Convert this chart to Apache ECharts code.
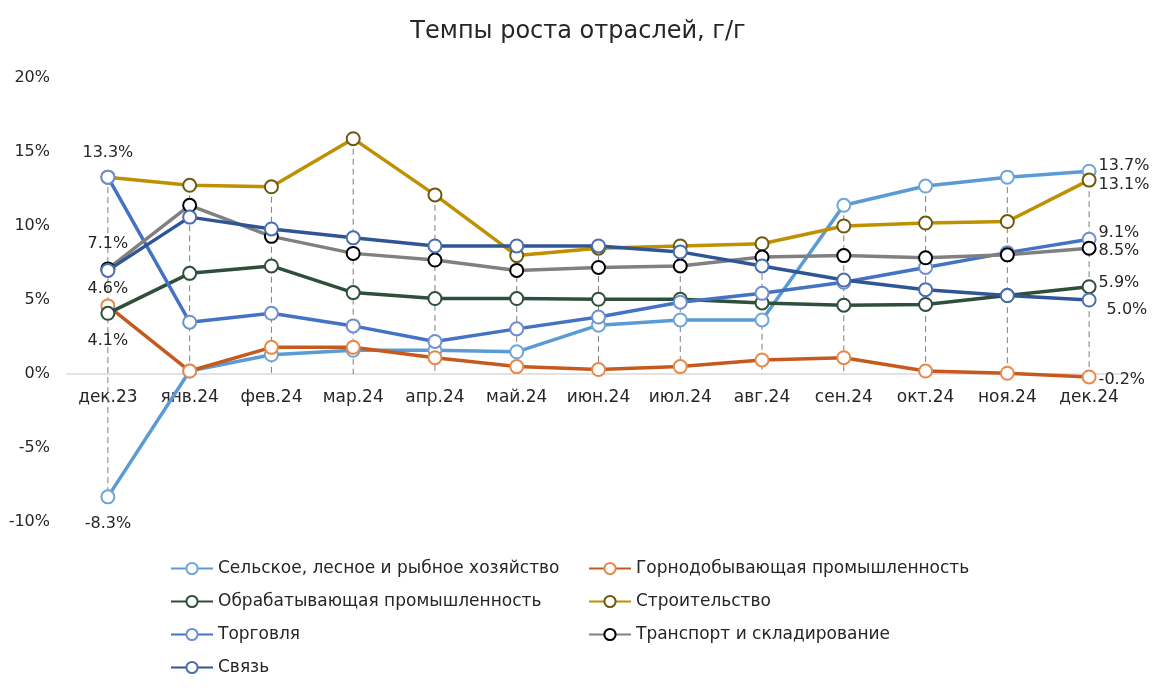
<!DOCTYPE html>
<html>
<head>
<meta charset="utf-8">
<script src="https://cdn.jsdelivr.net/npm/echarts@6/dist/echarts.min.js"></script>
<style>
  html, body { margin: 0; padding: 0; background: #fff; }
  #chart-box { width: 1156px; height: 691px; }
</style>
</head>
<body>
<div id="chart-box"></div>
<script>
var categories = ['дек.23','янв.24','фев.24','мар.24','апр.24','май.24','июн.24','июл.24','авг.24','сен.24','окт.24','ноя.24','дек.24'];
var yTicks = [-10, -5, 0, 5, 10, 15, 20];

var names = [
  'Сельское, лесное и рыбное хозяйство',
  'Горнодобывающая промышленность',
  'Обрабатывающая промышленность',
  'Строительство',
  'Торговля',
  'Транспорт и складирование',
  'Связь'
];

var agro      = [-8.3, 0.2, 1.3, 1.6, 1.6, 1.5, 3.3, 3.65, 3.65, 11.4, 12.7, 13.3, 13.7];
var mining    = [4.6, 0.2, 1.8, 1.8, 1.1, 0.5, 0.3, 0.5, 0.95, 1.1, 0.2, 0.05, -0.2];
var manuf     = [4.1, 6.8, 7.3, 5.5, 5.1, 5.1, 5.05, 5.05, 4.8, 4.65, 4.7, 5.3, 5.9];
var construct = [13.3, 12.75, 12.65, 15.9, 12.1, 8.0, 8.5, 8.65, 8.8, 10.0, 10.2, 10.3, 13.1];
var trade     = [13.3, 3.5, 4.1, 3.25, 2.2, 3.05, 3.85, 4.85, 5.45, 6.2, 7.2, 8.2, 9.1];
var transport = [7.1, 11.4, 9.3, 8.15, 7.7, 7.0, 7.2, 7.3, 7.9, 8.0, 7.85, 8.05, 8.5];
var telecom   = [7.0, 10.6, 9.8, 9.2, 8.65, 8.65, 8.65, 8.25, 7.3, 6.35, 5.7, 5.3, 5.0];

var allValues = [agro, mining, manuf, construct, trade, transport, telecom];

// styles
var lineColors   = ['#5B9BD5', '#C65A1E', '#2E4F3B', '#BF9000', '#4472C4', '#808080', '#2F5597'];
var borderColors = ['#6FA6DA', '#E8894A', '#2E4F3B', '#6B5A10', '#6E8FD2', '#000000', '#4B6FAE'];

// which points carry a label: [seriesIndex, pointIndex, position, offset]
var labelCfg = [
  [3, 0, 'top', [0, -3]],
  [5, 0, 'top', [0, -4]],
  [1, 0, 'top', [0, 4]],
  [2, 0, 'bottom', [0, 6]],
  [0, 0, 'bottom', [0, 6]],
  [0, 12, 'right', [-4, -5]],
  [3, 12, 'right', [-4, 5]],
  [4, 12, 'right', [-4, -6]],
  [5, 12, 'right', [-4, 3]],
  [2, 12, 'right', [-4, -4]],
  [6, 12, 'right', [4, 10]],
  [1, 12, 'right', [-4, 3]]
];

var textColor = '#262626';
var fontFam = '"DejaVu Sans", sans-serif';

function buildData(si) {
  return allValues[si].map(function (v, i) {
    var item = { value: v };
    labelCfg.forEach(function (c) {
      if (c[0] === si && c[1] === i) {
        item.label = {
          show: true,
          position: c[2],
          offset: c[3],
          distance: 6,
          color: textColor,
          fontSize: 16,
          fontFamily: fontFam,
          formatter: function (p) { return p.value.toFixed(1) + '%'; }
        };
      }
    });
    return item;
  });
}

// drop lines from highest point down to the axis (or lowest negative point)
var dropData = categories.map(function (c, i) {
  var col = allValues.map(function (a) { return a[i]; });
  return [i, Math.max(0, Math.max.apply(null, col)), Math.min(0, Math.min.apply(null, col))];
});

var series = [{
  type: 'custom',
  silent: true,
  z: 1,
  data: dropData,
  renderItem: function (params, api) {
    var top = api.coord([api.value(0), api.value(1)]);
    var bot = api.coord([api.value(0), api.value(2)]);
    return {
      type: 'line',
      shape: { x1: top[0], y1: top[1], x2: bot[0], y2: bot[1] },
      style: { stroke: '#7F7F7F', lineWidth: 1, lineDash: [6, 4] }
    };
  }
}];

names.forEach(function (n, si) {
  series.push({
    name: n,
    type: 'line',
    z: 2 + si,
    data: buildData(si),
    symbol: 'circle',
    symbolSize: 13,
    showAllSymbol: true,
    lineStyle: { color: lineColors[si], width: 3.5 },
    itemStyle: { color: '#ffffff', borderColor: borderColors[si], borderWidth: 2 }
  });
});

var legendText = { color: textColor, fontSize: 17, lineHeight: 19, fontFamily: fontFam };

var gridTop = 78, gridBottom = 169, chartH = 691;
// x axis sits at the zero line: shift it up from the bottom of the grid
var plotH = chartH - gridTop - gridBottom;
var zeroShift = plotH * (0 - yTicks[0]) / (yTicks[yTicks.length - 1] - yTicks[0]);

var option = {
  animation: false,
  title: {
    text: 'Темпы роста отраслей, г/г',
    left: 'center',
    top: 15,
    textStyle: { color: textColor, fontSize: 24, fontWeight: 'normal', fontFamily: fontFam }
  },
  legend: [{
    orient: 'vertical',
    left: 165,
    top: 554,
    itemWidth: 42,
    itemHeight: 14,
    itemGap: 14,
    textStyle: legendText,
    data: [names[0], names[2], names[4], names[6]]
  }, {
    orient: 'vertical',
    left: 583,
    top: 554,
    itemWidth: 42,
    itemHeight: 14,
    itemGap: 14,
    textStyle: legendText,
    data: [names[1], names[3], names[5]]
  }],
  grid: {
    left: 67,
    right: 26,
    top: gridTop,
    bottom: gridBottom
  },
  xAxis: {
    type: 'category',
    data: categories,
    offset: -zeroShift,
    axisTick: { show: false },
    axisLine: { onZero: false, lineStyle: { color: '#D9D9D9', width: 1.5 } },
    axisLabel: { color: textColor, fontSize: 17, fontFamily: fontFam, margin: 15, interval: 0 }
  },
  yAxis: {
    type: 'value',
    min: yTicks[0],
    max: yTicks[yTicks.length - 1],
    interval: 5,
    axisLine: { show: false },
    axisTick: { show: false },
    splitLine: { show: false },
    axisLabel: {
      color: textColor,
      fontSize: 16,
      fontFamily: fontFam,
      margin: 17,
      formatter: function (v) { return v + '%'; }
    }
  },
  series: series
};

var chartObj = echarts.init(document.getElementById('chart-box'));
chartObj.setOption(option);
</script>
</body>
</html>
